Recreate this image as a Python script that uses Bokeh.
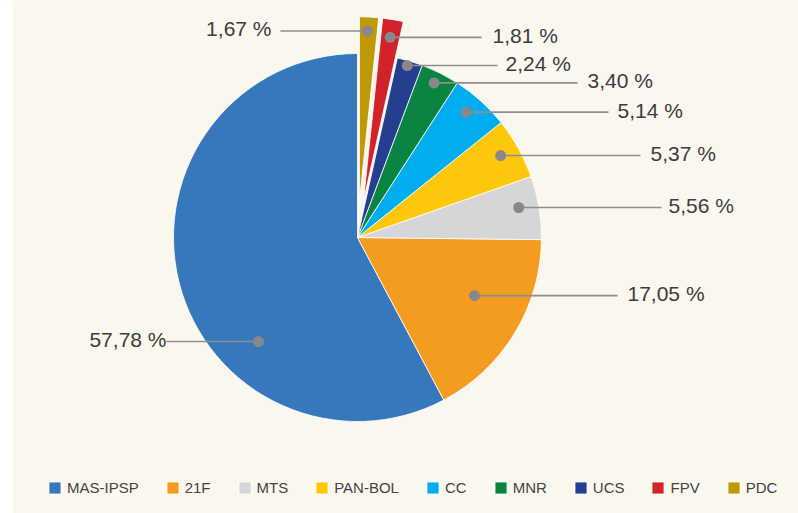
import math
from bokeh.plotting import figure
from bokeh.models import Range1d, ColumnDataSource, Legend, LegendItem
from bokeh.core.properties import value
from bokeh.embed import file_html
from bokeh.resources import INLINE

# ---- data ----
parties = ["MAS-IPSP", "21F", "MTS", "PAN-BOL", "CC", "MNR", "UCS", "FPV", "PDC"]
shares = [57.78, 17.05, 5.56, 5.37, 5.14, 3.40, 2.24, 1.81, 1.67]
labels = ["57,78 %", "17,05 %", "5,56 %", "5,37 %", "5,14 %", "3,40 %", "2,24 %", "1,81 %", "1,67 %"]
colors = ["#3778BD", "#F49C1F", "#D5D6D8", "#FDC70C", "#00AEEF", "#0A8441", "#233F8E", "#D2232A", "#BD9A06"]
exploded = [False, False, False, False, False, False, False, True, True]

# ---- layout (pixels) ----
W, H = 798, 513
cx, cy = 357, 276          # pie centre (frame px, y up)
R = 184
EXPLODE = 0.2 * R
dot_frac = [0.656, 0.58, 0.56, 0.54, 0.56, 0.53, 0.55, 0.5, 0.55]
dot_r = [143.6, 130.6, 164, 165, 166, 172.5, 179, 166, 170]
line_end_x = [166, 617, 661, 640, 608, 577, 497, 481, 280]
text_x = [166, 627, 668, 650, 617, 587, 505, 492, 271]
text_align = ["right", "left", "left", "left", "left", "left", "left", "left", "right"]

total = sum(shares)
starts, ends, xs, ys, dxs, dys = [], [], [], [], [], []
cum = 0.0
for i, s in enumerate(shares):
    a0 = math.pi / 2 + cum / total * 2 * math.pi
    a1 = math.pi / 2 + (cum + s) / total * 2 * math.pi
    mid = (a0 + a1) / 2
    ox = EXPLODE * math.cos(mid) if exploded[i] else 0.0
    oy = EXPLODE * math.sin(mid) if exploded[i] else 0.0
    starts.append(a0)
    ends.append(a1)
    xs.append(cx + ox)
    ys.append(cy + oy)
    ad = a0 + dot_frac[i] * (a1 - a0)
    dxs.append(cx + ox + dot_r[i] * math.cos(ad))
    dys.append(cy + oy + dot_r[i] * math.sin(ad))
    cum += s

src = ColumnDataSource(dict(party=parties, share=shares, color=colors,
                            x=xs, y=ys, start=starts, end=ends))

p = figure(width=W, height=H, output_backend="svg", toolbar_location=None,
           x_range=Range1d(12, 798), y_range=Range1d(0, H),
           x_axis_type=None, y_axis_type=None,
           min_border_left=12, min_border_right=0, min_border_top=0, min_border_bottom=0)
p.background_fill_color = "#FAF7EF"
p.border_fill_color = "#FFFFFF"
p.outline_line_color = None
p.grid.visible = False

pie = p.wedge(x="x", y="y", radius=R, start_angle="start", end_angle="end",
              direction="anticlock", fill_color="color", line_color="#FFFFFF",
              line_width=0.8, source=src)

lsrc = ColumnDataSource(dict(x0=dxs, y0=dys, x1=line_end_x, y1=dys,
                             tx=text_x, ty=[v + 2 for v in dys], txt=labels, align=text_align))
p.segment(x0="x0", y0="y0", x1="x1", y1="y1", line_color="#8E8E8E", line_width=1.6, source=lsrc)
p.scatter(x="x0", y="y0", size=11, fill_color="#88888B", line_color=None, source=lsrc)
p.text(x="tx", y="ty", text="txt", text_align="align", text_baseline="middle",
       text_font=value("Liberation Sans"), text_font_size="21px", text_color="#3D3D3D",
       source=lsrc)

items = [LegendItem(label=name, renderers=[pie], index=i) for i, name in enumerate(parties)]

legend = Legend(items=items, orientation="horizontal", location=(35, 17),
                glyph_width=15, glyph_height=15, label_height=15,
                label_standoff=5, spacing=26, padding=0, margin=0,
                label_text_font="Liberation Sans", label_text_font_size="15px",
                label_text_color="#444444", border_line_color=None,
                background_fill_alpha=0)
p.add_layout(legend)

open("out.html", "w").write(file_html(p, INLINE))
